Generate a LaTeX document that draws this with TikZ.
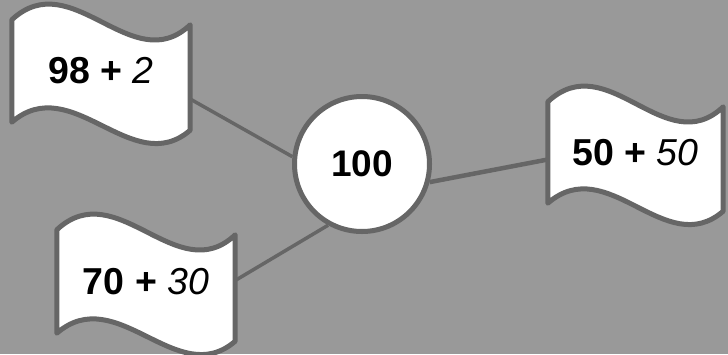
\documentclass[tikz,border=0pt]{standalone}
\usepackage{fontspec}
\setmainfont{Liberation Sans}
\usetikzlibrary{calc}
\definecolor{bgcol}{HTML}{999999}
\definecolor{edgecol}{HTML}{666666}
\pgfdeclarelayer{back}
\pgfdeclarelayer{lines}
\pgfdeclarelayer{shapes}
\pgfsetlayers{back,lines,shapes,main}
\tikzset{
  flagtext/.style={inner sep=0pt, minimum width=#1, font=\fontsize{37.5}{40}\selectfont},
  flagshape/.style={draw=edgecol, fill=white, line width=5pt, line join=round},
  hub/.style={circle, draw=edgecol, fill=white, line width=5pt, minimum size=135pt, inner sep=0pt, font=\fontsize{37}{40}\selectfont\bfseries},
  link/.style={draw=edgecol, line width=3.5pt},
}
\newcommand\flagpath[1]{%
  \draw[flagshape] (#1.north west) .. controls +(60,-56) and +(-58,55) .. ($(#1.north east)+(0,5)$)
     -- ($(#1.south east)+(0,8)$) .. controls +(-58,50) and +(60,-52) .. (#1.south west) -- cycle;}
\begin{document}
\begin{tikzpicture}[x=1pt,y=-1pt]
\begin{pgfonlayer}{back}
  \fill[bgcol] (0,0) rectangle (728,354);
\end{pgfonlayer}
\useasboundingbox (0,0) rectangle (728,354);
\node[flagtext=178pt, minimum height=102pt] (f1) at (101,71) {\textbf{98 +} \textit{2}};
\node[flagtext=178pt, minimum height=103pt] (f2) at (146,281.5) {\textbf{70 +} \textit{30}};
\node[flagtext=175pt, minimum height=101pt] (f3) at (635.5,152.5) {\textbf{50 +} \textit{50}};
\node[hub] (c) at (362,164) {100};
\begin{pgfonlayer}{shapes}
  \flagpath{f1}
  \flagpath{f2}
  \flagpath{f3}
\end{pgfonlayer}
\begin{pgfonlayer}{lines}
  \draw[link] ([yshift=-28pt]f1.east) -- (c.174);
  \draw[link] ([yshift=1pt]f2.east) -- (c.241);
  \draw[link, line width=4.5pt] (c.345) -- ([yshift=-7pt]f3.west);
\end{pgfonlayer}
\end{tikzpicture}
\end{document}
